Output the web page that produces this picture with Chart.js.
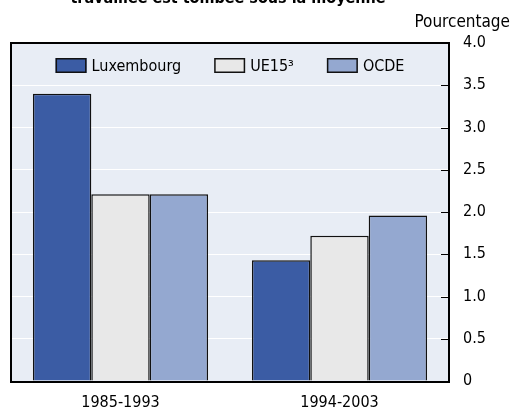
<!DOCTYPE html>
<html>
<head>
<meta charset="utf-8">
<script src="https://cdn.jsdelivr.net/npm/chart.js@4.4.1/dist/chart.umd.min.js"></script>
<style>
  html, body { margin: 0; padding: 0; background: #ffffff; }
  #wrap { position: relative; width: 511px; height: 411px; overflow: hidden; }
  #title { position: absolute; left: 0; width: 456px; top: -10px; text-align: center;
           font: bold 16px 'DejaVu Sans Condensed', 'Liberation Sans', sans-serif; line-height: 16px; color: #000; }
  #unit { position: absolute; right: 1px; top: 11px; font: 17px 'DejaVu Sans Condensed', 'Liberation Sans', sans-serif; line-height: 20px; color: #000; }
  canvas { position: absolute; left: 0; top: 0; }
</style>
</head>
<body>
<div id="wrap">
  <canvas id="c" width="511" height="411"></canvas>
  <div id="title">travaillée est tombée sous la moyenne</div>
  <div id="unit">Pourcentage</div>
</div>
<script>
const categories = ['1985-1993', '1994-2003'];
const seriesNames = ['Luxembourg', 'UE15³', 'OCDE'];
const luxembourg = [3.4, 1.43];
const ue15 = [2.21, 1.72];
const ocde = [2.21, 1.96];
const yTicks = [0, 0.5, 1.0, 1.5, 2.0, 2.5, 3.0, 3.5, 4.0];

const FONT = "'DejaVu Sans Condensed', 'Liberation Sans', sans-serif";
const colors = ['#3b5ca4', '#e8e8e8', '#94a8d0'];

const plotDecor = {
  id: 'plotDecor',
  beforeDraw(chart) {
    const { ctx, chartArea: a } = chart;
    ctx.save();
    ctx.fillStyle = '#e8edf5';
    ctx.fillRect(a.left, a.top, a.right - a.left, a.bottom - a.top);
    ctx.restore();
  },
  afterDatasetsDraw(chart) {
    const { ctx, chartArea: a } = chart;
    const ys = chart.scales.y;
    ctx.save();
    // inward ticks on right border
    ctx.strokeStyle = '#000';
    ctx.lineWidth = 1;
    yTicks.forEach(v => {
      const py = Math.round(ys.getPixelForValue(v)) + 0.5;
      ctx.beginPath();
      ctx.moveTo(a.right - 8, py);
      ctx.lineTo(a.right, py);
      ctx.stroke();
    });
    // frame
    ctx.lineWidth = 2;
    ctx.strokeRect(a.left, a.top, a.right - a.left, a.bottom - a.top + 1);
    // legend
    ctx.font = '16px ' + FONT;
    ctx.textBaseline = 'middle';
    ctx.textAlign = 'left';
    const boxW = 31, boxH = 15, gapText = 5, gapItem = 33;
    const items = chart.data.datasets.map(d => ({ label: d.label, color: d.backgroundColor, w: ctx.measureText(d.label).width }));
    let total = 0;
    items.forEach((it, i) => { total += boxW + gapText + it.w + (i < items.length - 1 ? gapItem : 0); });
    let x = (a.left + a.right) / 2 - total / 2;
    const yTop = 58;
    items.forEach(it => {
      ctx.fillStyle = it.color;
      ctx.fillRect(x, yTop, boxW, boxH);
      ctx.lineWidth = 1.5;
      ctx.strokeStyle = '#111';
      ctx.strokeRect(x + 0.75, yTop + 0.75, boxW - 1.5, boxH - 1.5);
      ctx.fillStyle = '#000';
      ctx.fillText(it.label, x + boxW + gapText, yTop + boxH / 2 + 1);
      x += boxW + gapText + it.w + gapItem;
    });
    ctx.restore();
  }
};

new Chart(document.getElementById('c'), {
  type: 'bar',
  data: {
    labels: categories,
    datasets: [
      { label: seriesNames[0], data: luxembourg, backgroundColor: colors[0] },
      { label: seriesNames[1], data: ue15, backgroundColor: colors[1] },
      { label: seriesNames[2], data: ocde, backgroundColor: colors[2] }
    ].map(d => Object.assign(d, { borderColor: '#111', borderWidth: 1.5, categoryPercentage: 0.8, barPercentage: 1.0 }))
  },
  options: {
    responsive: false,
    animation: false,
    events: [],
    layout: { padding: { left: 11, top: 43, right: 0, bottom: 0 } },
    plugins: { legend: { display: false }, title: { display: false }, tooltip: { enabled: false } },
    scales: {
      x: {
        grid: { display: false, drawTicks: false },
        border: { display: false },
        ticks: { color: '#000', font: { family: FONT, size: 16 }, padding: 12 },
        afterFit(s) { s.height = 30; }
      },
      y: {
        position: 'right',
        min: 0, max: 4,
        afterBuildTicks(s) { s.ticks = yTicks.map(v => ({ value: v })); },
        grid: { color: '#ffffff', lineWidth: 1, drawTicks: false },
        border: { display: false },
        ticks: {
          color: '#000', font: { family: FONT, size: 16 }, padding: 14,
          callback: v => v === 0 ? '0' : v.toFixed(1)
        },
        afterFit(s) { s.width = 62; }
      }
    }
  },
  plugins: [plotDecor]
});
</script>
</body>
</html>
